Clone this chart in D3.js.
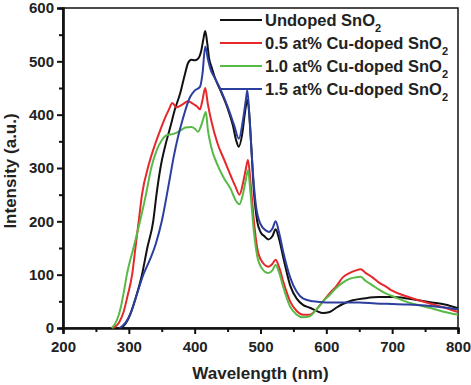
<!DOCTYPE html>
<html>
<head>
<meta charset="utf-8">
<script src="https://cdn.jsdelivr.net/npm/d3@7"></script>
<style>
  body { margin: 0; background: #fff; }
  svg text { font-family: "Liberation Sans", Arial, sans-serif; font-weight: bold; fill: #222; }
</style>
</head>
<body>
<div class="chart"></div>
<script>
// series names for the legend
var seriesNames = ["Undoped SnO", "0.5 at% Cu-doped SnO", "1.0 at% Cu-doped SnO", "1.5 at% Cu-doped SnO"];
var seriesColors = ["#111111", "#e6282b", "#58b947", "#2c3e9e"];

var xTicks = [200, 300, 400, 500, 600, 700, 800];
var yTicks = [0, 100, 200, 300, 400, 500, 600];

// [wavelength nm, intensity]
var undoped = [[288,0],[295,8],[302,25],[310,55],[320,100],[328,150],[337,200],[342,250],[348,300],[356,345],[363,377],[370,410],[378,440],[385,475],[390,497],[395,503],[400,502],[405,505],[410,520],[413,540],[416,557],[419,535],[422,505],[426,488],[430,472],[440,443],[450,412],[458,380],[463,352],[467,340],[472,362],[476,400],[480,428],[483,400],[486,340],[490,255],[495,200],[500,180],[506,172],[512,166],[518,172],[523,185],[528,168],[535,130],[545,80],[555,55],[565,43],[575,38],[585,32],[595,28],[605,30],[615,38],[625,45],[640,52],[660,56],[680,58],[700,58],[720,56],[740,52],[760,48],[780,44],[800,37]];
var cu05 = [[276,0],[285,10],[292,30],[298,60],[305,100],[310,150],[315,200],[320,250],[330,305],[340,345],[348,372],[355,394],[361,410],[366,422],[372,414],[380,418],[390,425],[398,420],[404,415],[408,410],[412,428],[416,450],[420,420],[425,390],[435,345],[445,315],[455,285],[462,265],[468,250],[474,275],[478,300],[481,315],[485,270],[490,200],[495,150],[502,125],[512,115],[518,120],[523,128],[528,115],[535,85],[545,50],[555,32],[565,25],[575,25],[585,35],[595,50],[605,65],[615,78],[625,95],[635,103],[645,108],[652,110],[660,103],[670,95],[680,85],[690,78],[700,70],[720,60],[740,52],[760,45],[780,38],[800,30]];
var cu10 = [[274,0],[282,15],[288,40],[292,65],[297,100],[307,150],[317,200],[326,250],[334,300],[342,332],[350,352],[358,362],[368,364],[378,370],[386,376],[395,377],[400,374],[405,368],[410,380],[413,392],[417,405],[420,372],[425,340],[435,305],[445,280],[455,260],[462,240],[468,232],[474,255],[478,280],[481,296],[485,250],[490,180],[495,135],[502,112],[512,103],[518,108],[523,118],[528,105],[535,75],[545,40],[555,25],[565,20],[575,22],[585,35],[595,50],[605,62],[615,75],[625,85],[635,92],[645,95],[652,96],[660,88],[670,80],[680,72],[690,65],[700,60],[720,50],[740,43],[760,37],[780,30],[800,25]];
var cu15 = [[286,0],[295,10],[305,35],[314,70],[322,100],[332,128],[341,158],[350,200],[360,265],[368,320],[375,360],[382,392],[393,433],[400,445],[408,452],[412,478],[416,528],[420,505],[425,482],[430,470],[440,445],[450,415],[460,380],[467,355],[474,395],[478,430],[480,446],[484,380],[488,300],[493,230],[500,195],[508,183],[513,180],[518,186],[523,200],[528,180],[535,140],[545,95],[555,68],[565,55],[580,50],[600,48],[625,48],[650,48],[675,46],[700,45],[725,44],[750,42],[775,39],[800,35]];

var allSeries = [undoped, cu05, cu10, cu15];

var svgWidth = 471, svgHeight = 385;
var margin = { top: 8, right: 13, bottom: 57, left: 63 };
var width = svgWidth - margin.left - margin.right;
var height = svgHeight - margin.top - margin.bottom;

var svg = d3.select(".chart").append("svg")
  .attr("width", svgWidth)
  .attr("height", svgHeight);

var chartGroup = svg.append("g")
  .attr("transform", `translate(${margin.left}, ${margin.top})`);

var xScale = d3.scaleLinear().domain([200, 800]).range([0, width]);
var yScale = d3.scaleLinear().domain([0, 600]).range([height, 0]);

// frame on top and right
chartGroup.append("rect")
  .attr("width", width).attr("height", height)
  .attr("fill", "none").attr("stroke", "#111").attr("stroke-width", 1.5);

// minor ticks
var xMinor = d3.axisBottom(xScale).tickValues(d3.range(250, 800, 100)).tickSize(4).tickFormat("");
var yMinor = d3.axisLeft(yScale).tickValues(d3.range(50, 600, 100)).tickSize(4).tickFormat("");
chartGroup.append("g").attr("transform", `translate(0, ${height})`).call(xMinor);
chartGroup.append("g").call(yMinor);

var xAxis = d3.axisBottom(xScale).tickValues(xTicks).tickSize(6).tickPadding(7);
var yAxis = d3.axisLeft(yScale).tickValues(yTicks).tickSize(6).tickPadding(3);

var gx = chartGroup.append("g").attr("transform", `translate(0, ${height})`).call(xAxis);
var gy = chartGroup.append("g").call(yAxis);

chartGroup.selectAll(".domain").attr("stroke", "#111").attr("stroke-width", 2.2);
chartGroup.selectAll(".tick line").attr("stroke", "#111").attr("stroke-width", 2);
chartGroup.selectAll(".tick text").style("font-size", "15px").attr("fill", "#222");

// lines
var line = d3.line()
  .x(d => xScale(d[0]))
  .y(d => yScale(d[1]))
  .curve(d3.curveMonotoneX);

chartGroup.selectAll(".series")
  .data(allSeries)
  .enter()
  .append("path")
  .attr("class", "series")
  .attr("d", line)
  .attr("fill", "none")
  .attr("stroke", (d, i) => seriesColors[i])
  .attr("stroke-width", 2);

// legend
var legend = chartGroup.selectAll(".legend")
  .data(seriesNames)
  .enter()
  .append("g")
  .attr("transform", (d, i) => `translate(157, ${12 + i * 23})`);

legend.append("line")
  .attr("x1", 0).attr("x2", 42)
  .attr("stroke", (d, i) => seriesColors[i])
  .attr("stroke-width", 2);

var legText = legend.append("text")
  .attr("x", 45).attr("y", 6)
  .style("font-size", "16.5px");
legText.append("tspan").text(d => d);
legText.append("tspan").attr("dy", 6).style("font-size", "11px").text("2");

// axis titles
svg.append("text")
  .attr("x", margin.left + width / 2)
  .attr("y", 379)
  .attr("text-anchor", "middle")
  .style("font-size", "17px")
  .text("Wavelength (nm)");

svg.append("text")
  .attr("transform", `translate(16, ${margin.top + height / 2 + 3}) rotate(-90)`)
  .attr("text-anchor", "middle")
  .style("font-size", "17px")
  .text("Intensity (a.u.)");
</script>
</body>
</html>
